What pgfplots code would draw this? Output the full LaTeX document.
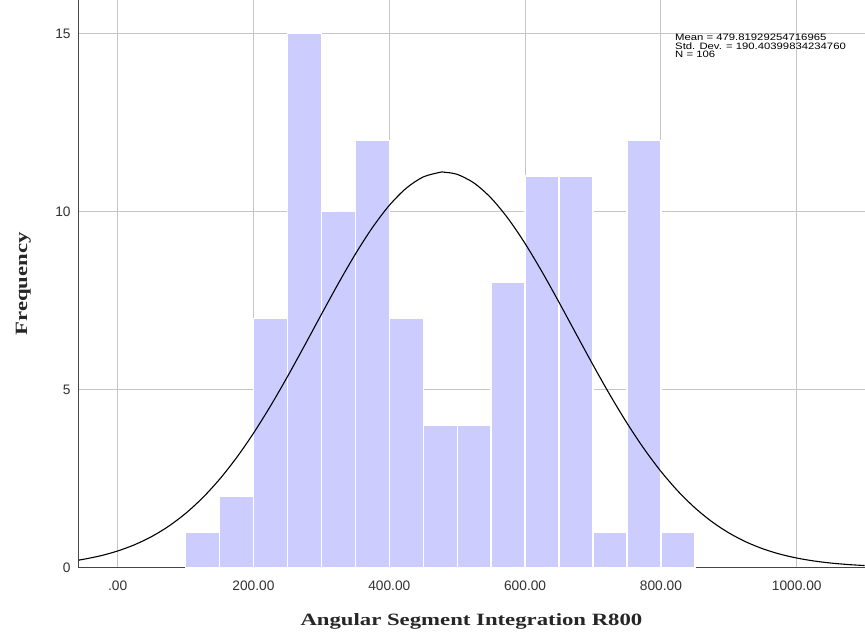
\documentclass[border=0pt]{standalone}
\usepackage{fontspec}
\setmainfont{Liberation Sans}
\newfontfamily\labelfont[FakeStretch=1.32]{Liberation Serif}
\newfontfamily\statfont[FakeStretch=1.22]{Liberation Sans}
\usepackage{pgfplots}
\usepackage{pgfplotstable}
\pgfplotsset{compat=1.18}

\definecolor{barfill}{RGB}{204,204,255}
\definecolor{gridgray}{RGB}{198,198,198}
\definecolor{axisgray}{RGB}{70,70,70}

% histogram: left bin edge and count (last row closes the final interval)
\pgfplotstableread{
edge count
100 1
150 2
200 7
250 15
300 10
350 12
400 7
450 4
500 4
550 8
600 11
650 11
700 1
750 12
800 1
850 0
}\bins

% fitted normal curve (mean 479.82, sd 190.40, N 106, bin width 50)
\pgfplotstableread{
x y
-58 0.2056
-50 0.2313
-25 0.3306
0 0.4640
25 0.6405
50 0.8689
75 1.1586
100 1.5186
125 1.9563
150 2.4772
175 3.0831
200 3.7717
225 4.5351
250 5.3600
275 6.2265
300 7.1095
325 7.9790
350 8.8018
375 9.5434
400 10.1707
425 10.6540
450 10.9695
475 11.1013
479.82 11.1048
500 11.0426
525 10.7965
550 10.3755
575 9.8004
600 9.0991
625 8.3035
650 7.4480
675 6.5664
700 5.6902
725 4.8467
750 4.0576
775 3.3390
800 2.7007
825 2.1470
850 1.6777
875 1.2886
900 0.9728
925 0.7218
950 0.5265
975 0.3774
1000 0.2659
1025 0.1842
1050 0.1254
1075 0.0839
1100 0.0552
}\normalcurve

\begin{document}
\begin{tikzpicture}
\begin{axis}[
  scale only axis,
  width=786.3bp, height=567.5bp,
  xmin=-58, xmax=1100, ymin=0, ymax=15.94,
  axis x line*=bottom, axis y line*=left,
  axis line style={-, draw=axisgray, line width=0.9bp},
  xtick={0,200,400,600,800,1000},
  xticklabels={.00,200.00,400.00,600.00,800.00,1000.00},
  ytick={0,5,10,15},
  yticklabels={0,5,10,15},
  grid=major,
  major grid style={draw=gridgray, line width=0.9bp},
  major tick length=0pt,
  /pgf/number format/assume math mode=true,
  tick label style={font=\fontsize{13.8}{14}\selectfont, text=black!80},
  xticklabel style={inner sep=0pt, anchor=north, yshift=-13bp},
  yticklabel style={inner sep=0pt, anchor=east, xshift=-7.5bp},
  xlabel={Angular Segment Integration R800},
  ylabel={Frequency},
  label style={font=\labelfont\bfseries\fontsize{17.3}{19}\selectfont, text=black!85},
  xlabel style={at={(axis description cs:0.5,-0.0943)}, anchor=center},
  ylabel style={at={(axis description cs:-0.0700,0.5)}, anchor=center, rotate=0},
  clip=true,
]
\addplot[ybar interval, fill=barfill, draw=white, line width=1.3bp] table[x=edge, y=count] {\bins};
\addplot[black, line width=1.1bp, smooth, no marks] table[x=x, y=y] {\normalcurve};
\node[anchor=north west, inner sep=0pt, align=left,
      font=\statfont\fontsize{9.3}{8.6}\selectfont]
  at (axis description cs:0.7589,0.9400)
  {Mean = 479.81929254716965\\Std. Dev. = 190.40399834234760\\N = 106};
\end{axis}
\pgfresetboundingbox
\path ([xshift=-78.3bp,yshift=-74.5bp]current axis.south west) rectangle ([xshift=0.4bp]current axis.north east);
\end{tikzpicture}
\end{document}
